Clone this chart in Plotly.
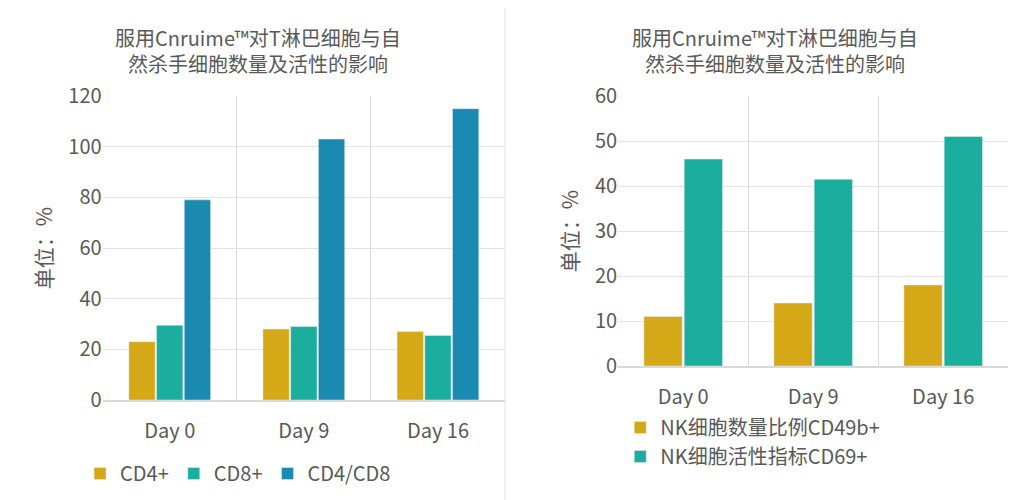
import plotly.graph_objects as go

categories = ["Day 0", "Day 9", "Day 16"]
cd4 = [23, 28, 27]
cd8 = [29.5, 29, 25.5]
cd4cd8 = [79, 103, 115]
nk_cd49b = [11, 14, 18]
nk_cd69 = [46, 41.5, 51]
title = "服用Cnruime™对T淋巴细胞与自<br>然杀手细胞数量及活性的影响"

GOLD, TEAL, BLUE = "#D4A817", "#1BAE9F", "#1A8AB0"
FONT = "Noto Sans CJK SC"
GRAY = "#595959"
xs = list(range(len(categories)))

fig = go.Figure()
fig.add_bar(x=xs, y=cd4, name="CD4+", marker_color=GOLD, xaxis="x", yaxis="y", legend="legend")
fig.add_bar(x=xs, y=cd8, name="CD8+", marker_color=TEAL, xaxis="x", yaxis="y", legend="legend")
fig.add_bar(x=xs, y=cd4cd8, name="CD4/CD8", marker_color=BLUE, xaxis="x", yaxis="y", legend="legend")
fig.add_bar(x=xs, y=nk_cd49b, name="NK细胞数量比例CD49b+", marker_color=GOLD, xaxis="x2", yaxis="y2", legend="legend2")
fig.add_bar(x=xs, y=nk_cd69, name="NK细胞活性指标CD69+", marker_color=TEAL, xaxis="x2", yaxis="y2", legend="legend2")

xcommon = dict(range=[-0.5, 2.5], tickmode="array", tickvals=xs, ticktext=categories,
               showgrid=False, showline=True, linecolor="#D9D9D9", linewidth=2,
               ticks="outside", ticklen=12, tickcolor="rgba(0,0,0,0)",
               tickfont=dict(size=20, color=GRAY), automargin=False,
               minor=dict(tick0=-0.5, dtick=1, showgrid=True, gridcolor="#D9D9D9", gridwidth=1),
               fixedrange=True)
ycommon = dict(showgrid=True, gridcolor="#E3E3E3", gridwidth=1, zeroline=False,
               tickfont=dict(size=20, color=GRAY), ticks="", automargin=False,
               title=dict(text="单位：%", font=dict(size=21, color=GRAY), standoff=10))

fig.update_layout(
    width=1029, height=500, margin=dict(l=0, r=0, t=0, b=0),
    paper_bgcolor="white", plot_bgcolor="white",
    font=dict(family=FONT, color=GRAY),
    barmode="group", bargap=0.38, bargroupgap=0.05,
    xaxis=dict(domain=[0.092, 0.483], anchor="y", **xcommon),
    yaxis=dict(domain=[0.216, 0.824], anchor="x", range=[0, 120], dtick=20, **ycommon),
    xaxis2=dict(domain=[0.593, 0.972], anchor="y2", **xcommon),
    yaxis2=dict(domain=[0.284, 0.824], anchor="x2", range=[0, 60], dtick=10, **ycommon),
    legend=dict(orientation="h", x=0.07, y=0.03, xanchor="left", yanchor="bottom",
                font=dict(size=20, color=GRAY), itemwidth=30, tracegroupgap=0),
    legend2=dict(orientation="v", x=0.595, y=0.2, xanchor="left", yanchor="top",
                 font=dict(size=20, color=GRAY), itemwidth=30, tracegroupgap=6),
    showlegend=True,
    annotations=[
        dict(text=title, x=0.243, y=0.975, xref="paper", yref="paper", showarrow=False,
             xanchor="center", yanchor="top", font=dict(size=20, color=GRAY)),
        dict(text=title, x=0.745, y=0.975, xref="paper", yref="paper", showarrow=False,
             xanchor="center", yanchor="top", font=dict(size=20, color=GRAY)),
    ],
    shapes=[dict(type="line", xref="paper", yref="paper", x0=0.483, x1=0.483, y0=0, y1=1,
                 line=dict(color="#E0E0E0", width=1))],
)
fig.write_html("out.html")
